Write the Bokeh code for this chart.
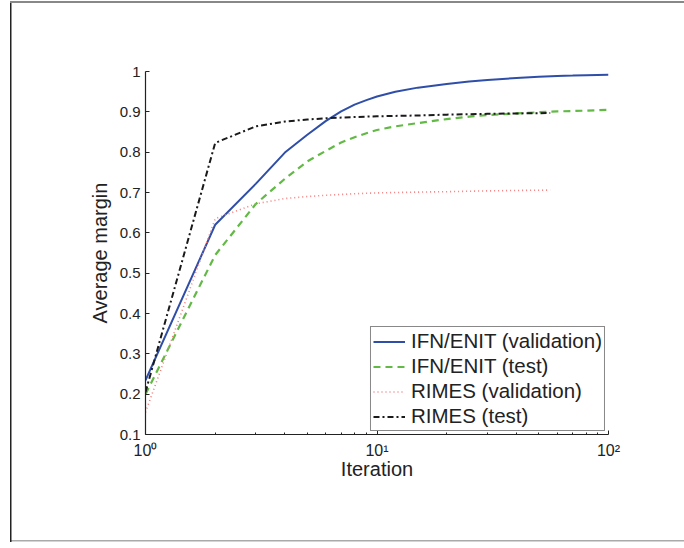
from bokeh.plotting import figure
from bokeh.models import FixedTicker, Legend, LegendItem, CustomJSTickFormatter
from bokeh.embed import file_html
from bokeh.resources import INLINE

# ---- data ----
ifn_iter = [1, 2, 3, 4, 5, 6, 7, 8, 9, 10, 12, 15, 20, 25, 30, 40, 50, 60, 70, 80, 100]
ifn_val = [0.234, 0.62, 0.722, 0.799, 0.843, 0.877, 0.901, 0.918, 0.929, 0.938, 0.95,
           0.96, 0.969, 0.975, 0.979, 0.984, 0.987, 0.989, 0.990, 0.991, 0.992]
ifn_test = [0.20, 0.545, 0.672, 0.734, 0.777, 0.803, 0.824, 0.837, 0.847, 0.855, 0.864,
            0.872, 0.882, 0.888, 0.892, 0.896, 0.899, 0.901, 0.902, 0.903, 0.905]

rimes_iter = [1, 2, 3, 4, 5, 6, 8, 10, 15, 20, 30, 40, 56]
rimes_val = [0.155, 0.635, 0.672, 0.685, 0.69, 0.693, 0.697, 0.699, 0.701, 0.702, 0.704, 0.705, 0.706]
rimes_test = [0.205, 0.823, 0.864, 0.876, 0.881, 0.884, 0.887, 0.889, 0.891, 0.893, 0.895, 0.896, 0.897]

series_names = ["IFN/ENIT (validation)", "IFN/ENIT (test)", "RIMES (validation)", "RIMES (test)"]

x_ticks = [1, 10, 100]
x_tick_labels = ["10\u2070", "10\u00b9", "10\u00b2"]
x_minor = [2, 3, 4, 5, 6, 7, 8, 9, 20, 30, 40, 50, 60, 70, 80, 90]
y_ticks = [0.1, 0.2, 0.3, 0.4, 0.5, 0.6, 0.7, 0.8, 0.9, 1.0]

FONT = "Liberation Sans"

p = figure(width=684, height=548, x_axis_type="log", x_range=(1, 100), y_range=(0.1, 1.0),
           output_backend="svg", toolbar_location=None,
           min_border_left=145, min_border_right=76, min_border_top=71, min_border_bottom=114)
p.styles = {
    "background": ("linear-gradient(#888888,#888888) 10px 1px / 674px 2px no-repeat, "
                   "linear-gradient(#222222,#222222) 10px 1px / 1.5px 541px no-repeat, "
                   "linear-gradient(#aaaaaa,#aaaaaa) 10px 540px / 674px 1.5px no-repeat, white"),
}
p.outline_line_color = None
p.xgrid.visible = False
p.ygrid.visible = False
p.background_fill_color = "white"
p.border_fill_color = None

r1 = p.line(ifn_iter, ifn_val, line_color="#2f4ea8", line_width=2)
r2 = p.line(ifn_iter, ifn_test, line_color="#62b946", line_width=2.2, line_dash="7 5")
r3 = p.line(rimes_iter, rimes_val, line_color="#f47c7c", line_width=1.6, line_dash="1 3")
r4 = p.line(rimes_iter, rimes_test, line_color="#1a1a1a", line_width=2, line_dash="6 3 2 3")

for ax in (p.xaxis[0], p.yaxis[0]):
    ax.axis_line_color = "#222222"
    ax.axis_line_width = 1.2
    ax.major_tick_line_color = "#222222"
    ax.minor_tick_line_color = "#222222"
    ax.major_tick_in = 4
    ax.major_tick_out = 0
    ax.minor_tick_in = 2
    ax.minor_tick_out = 0
    ax.major_label_text_font = FONT
    ax.major_label_text_font_size = "15px"
    ax.major_label_text_color = "#222222"
    ax.axis_label_text_font = FONT
    ax.axis_label_text_font_size = "20px"
    ax.axis_label_text_font_style = "normal"
    ax.axis_label_text_color = "#222222"

p.xaxis.ticker = FixedTicker(ticks=x_ticks, minor_ticks=x_minor)
p.xaxis.major_label_overrides = dict(zip(x_ticks, x_tick_labels))
p.xaxis.major_label_text_font_size = "16px"
p.xaxis.axis_label = "Iteration"
p.xaxis.major_label_standoff = 7
p.xaxis.axis_label_standoff = -4

p.yaxis.ticker = FixedTicker(ticks=y_ticks, minor_ticks=[])
p.yaxis.formatter = CustomJSTickFormatter(code="return String(Math.round(tick*10)/10);")
p.yaxis.axis_label = "Average margin"
p.yaxis.major_label_standoff = 5
p.yaxis.axis_label_standoff = 6

legend = Legend(items=[LegendItem(label=n, renderers=[r]) for n, r in zip(series_names, [r1, r2, r3, r4])],
                location="bottom_right")
legend.label_text_font = FONT
legend.label_text_font_size = "20.5px"
legend.label_text_color = "#222222"
legend.glyph_width = 32
legend.glyph_height = 21
legend.label_height = 21
legend.label_standoff = 6
legend.spacing = 1
legend.padding = 2
legend.margin = 3
legend.border_line_color = "#111111"
legend.border_line_width = 1
legend.background_fill_color = "white"
legend.background_fill_alpha = 1
p.add_layout(legend)

open("out.html", "w").write(file_html(p, INLINE))
